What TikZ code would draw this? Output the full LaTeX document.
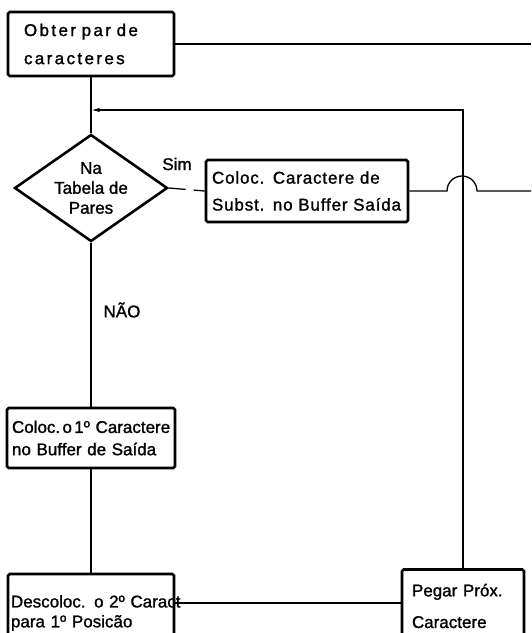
\documentclass[tikz,border=0pt]{standalone}
\usepackage{fontspec}
\setmainfont{Liberation Sans}[FakeBold=1.3]
\usetikzlibrary{calc}
\usetikzlibrary{arrows.meta}
\usetikzlibrary{shapes.geometric}

\begin{document}
\begin{tikzpicture}[x=0.3mm,y=-0.3mm,
  caixa/.style={draw,line width=2.2pt,rounded corners=1.5pt,align=left,inner ysep=0pt,
    font=\fontsize{14.5}{17}\selectfont},
  losango/.style={draw,diamond,line width=2.2pt,aspect=1.43,inner sep=-0.5mm,align=center,
    minimum width=45.9mm,minimum height=32.1mm,font=\fontsize{14.5}{17}\selectfont},
  rotulo/.style={font=\fontsize{14.5}{17}\selectfont},
  liga/.style={line width=1.1pt}]
\useasboundingbox (0,0) rectangle (531,633);

% caixas
\node[caixa,minimum width=49.8mm,minimum height=19.2mm,text width=40.2mm,inner xsep=4.8mm] (obter) at (91,44)
  {\addfontfeature{LetterSpace=14}Obter par de\\[7pt]caracteres};
\node[losango] (tabela) at (91,188) {Na\\Tabela de\\Pares};
\node[caixa,minimum width=60.6mm,minimum height=18.6mm,text width=57mm,inner xsep=1.8mm] (subst) at (307,191)
  {\addfontfeature{LetterSpace=5}Coloc. Caractere de\\[6pt]Subst. no Buffer Saída};
\node[caixa,minimum width=50.4mm,minimum height=18mm,text width=47.4mm,inner xsep=1.5mm] (coloc) at (91,438)
  {\mbox{Coloc.\hspace{2pt}o\hspace{2pt}1º Caractere}\\[2pt]no Buffer de Saída};
\node[caixa,minimum width=49.8mm,minimum height=23.4mm,text width=48mm,inner xsep=0.9mm] (desc) at (91,613)
  {\mbox{Descoloc. o 2º Caract}\\para 1º Posicão};
\node[caixa,minimum width=36.6mm,minimum height=21.9mm,text width=30.6mm,inner xsep=3mm] (pegar) at (463,606)
  {Pegar Próx.\\[10pt]Caractere};

% rotulos das saidas
\node[rotulo] (sim) at (177,164) {Sim};
\node[rotulo] (nao) at (122,310) {NÃO};

% pontos de juncao
\coordinate (volta) at (91,110);
\coordinate (saidaA) at (531,44);
\coordinate (pulo) at (447,191);
\coordinate (saidaB) at (531,191);

% ligacoes
\draw[liga] (obter.south) -- (tabela.north);
\draw[liga] (obter.east) -- (saidaA);
\draw[liga,-{Latex[length=2.6mm,width=1.3mm]}] (pegar.north) |- (volta);
\draw[liga,dash pattern=on 5.1mm off 2.4mm] (tabela.east) -- (subst.west);
\draw[liga] (subst.east) -- (pulo) arc[start angle=180,end angle=0,radius=4.5mm] -- (saidaB);
\draw[liga] (tabela.south) -- (coloc.north);
\draw[liga] (coloc.south) -- (desc.north);
\draw[liga] ([yshift=3mm]desc.east) -- ([yshift=3mm]desc.east -| pegar.west);

\end{tikzpicture}
\end{document}
